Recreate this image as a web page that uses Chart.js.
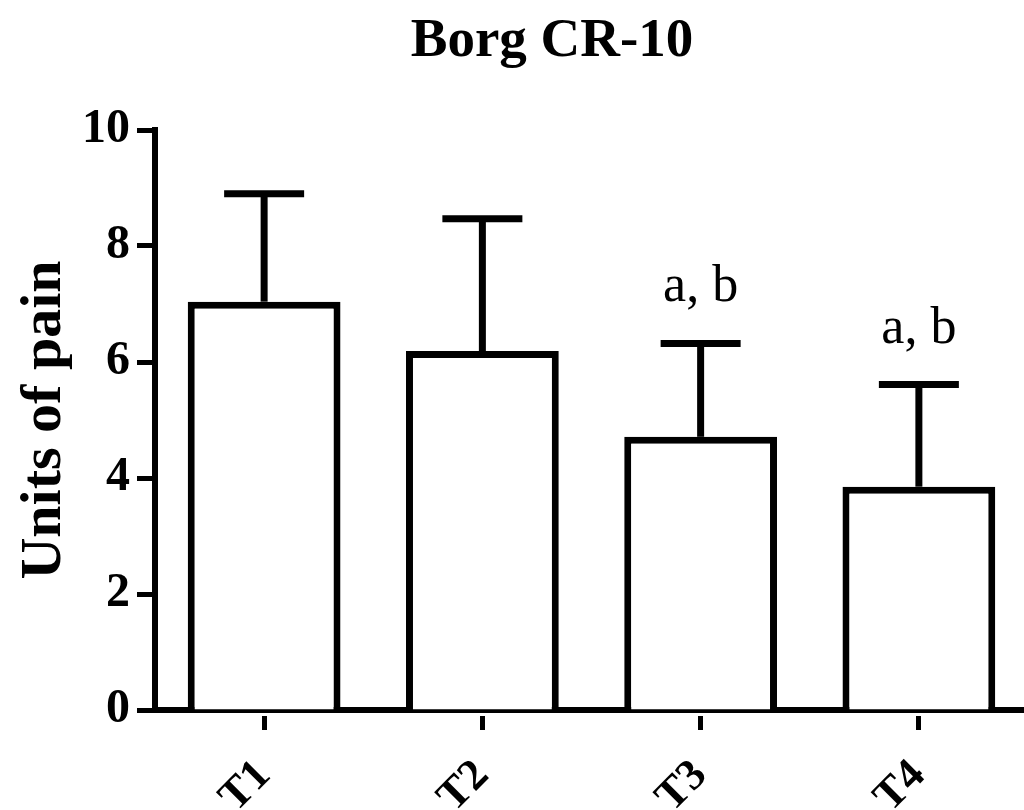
<!DOCTYPE html>
<html>
<head>
<meta charset="utf-8">
<script src="https://cdn.jsdelivr.net/npm/chart.js@4/dist/chart.umd.min.js"></script>
<style>
html, body { margin: 0; padding: 0; background: #fff; overflow: hidden; }
#wrap { width: 1028px; height: 810px; }
</style>
</head>
<body>
<div id="wrap"><canvas id="borg"></canvas></div>
<script>
var labels = ['T1', 'T2', 'T3', 'T4'];
var means = [7.04, 6.19, 4.71, 3.85];
var sds = [1.86, 2.28, 1.61, 1.76];
var sigLabels = ['', '', 'a, b', 'a, b'];
var yTicks = [0, 2, 4, 6, 8, 10];

var serif = "'Liberation Serif', 'Times New Roman', serif";

// error bars + significance letters + title
var extras = {
	id: 'extras',
	afterDatasetsDraw: function(chart) {
		var ctx = chart.ctx;
		var xs = chart.scales.x, ys = chart.scales.y;
		ctx.save();
		ctx.strokeStyle = '#000';
		ctx.lineWidth = 7;
		ctx.lineCap = 'butt';
		for (var i = 0; i < labels.length; i++) {
			var x = xs.getPixelForValue(i);
			var y0 = ys.getPixelForValue(means[i]);
			var y1 = ys.getPixelForValue(means[i] + sds[i]);
			ctx.beginPath();
			ctx.moveTo(x, y0);
			ctx.lineTo(x, y1);
			ctx.stroke();
			ctx.beginPath();
			ctx.moveTo(x - 40, y1);
			ctx.lineTo(x + 40, y1);
			ctx.stroke();
			if (sigLabels[i]) {
				ctx.fillStyle = '#000';
				ctx.font = '52px ' + serif;
				ctx.textAlign = 'center';
				ctx.textBaseline = 'alphabetic';
				ctx.fillText(sigLabels[i], x, y1 - 42);
			}
		}
		ctx.fillStyle = '#000';
		ctx.font = 'bold 55px ' + serif;
		ctx.textAlign = 'center';
		ctx.textBaseline = 'alphabetic';
		ctx.fillText('Borg CR-10', 552, 56);
		ctx.restore();
	}
};

var ctx = document.getElementById('borg').getContext('2d');
var chart = new Chart(ctx, {
	type: 'bar',
	data: {
		labels: labels,
		datasets: [{
			data: means,
			backgroundColor: '#fff',
			borderColor: '#000',
			borderWidth: 7,
			borderSkipped: 'start',
			categoryPercentage: 1,
			barPercentage: 0.7
		}]
	},
	options: {
		responsive: true,
		maintainAspectRatio: false,
		animation: false,
		layout: { padding: { top: 130, left: 0, right: 0, bottom: 0 } },
		plugins: { legend: { display: false }, tooltip: { enabled: false } },
		scales: {
			x: {
				grid: { display: true, offset: false, drawOnChartArea: false, drawTicks: true, tickLength: 20, tickWidth: 5, color: '#000', tickBorderDash: [0, 3, 40] },
				border: { display: true, color: '#000', width: 6 },
				ticks: { color: '#000', font: { family: serif, size: 44, weight: 'bold' }, minRotation: 45, maxRotation: 45, padding: 20 },
				afterFit: function(s) { s.height = 100; }
			},
			y: {
				min: 0,
				max: 10,
				afterBuildTicks: function(s) { s.ticks = yTicks.map(function(v) { return { value: v }; }); },
				grid: { display: true, drawOnChartArea: false, drawTicks: true, tickLength: 18, tickWidth: 5, color: '#000' },
				border: { display: true, color: '#000', width: 6 },
				ticks: { color: '#000', font: { family: serif, size: 48, weight: 'bold' }, padding: 7 },
				title: { display: true, text: 'Units of pain', color: '#000', font: { family: serif, size: 58, weight: 'bold' }, padding: { top: 10, bottom: 0 } },
				afterFit: function(s) { s.width = 155; }
			}
		}
	},
	plugins: [extras]
});
</script>
</body>
</html>
